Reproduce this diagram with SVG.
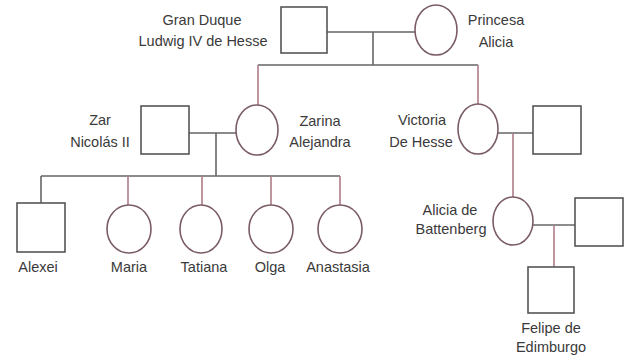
<svg xmlns="http://www.w3.org/2000/svg" width="625" height="356" viewBox="0 0 625 356">
<style>
.m{fill:#fff;stroke:#555;stroke-width:1.6}
.f{fill:#fff;stroke:#7a5c64;stroke-width:1.6}
.c{fill:none;stroke:#666;stroke-width:1.6}
.d{fill:none;stroke:#b07c88;stroke-width:1.6}
text{font-family:"Liberation Sans",Arial,sans-serif;font-size:14.5px;fill:#3a3a3a;text-anchor:middle}
</style>
<rect width="625" height="356" fill="#fff"/>
<g id="connectors">
<path class="c" d="M327 32H415M373 32V65M258 65H478"/>
<path class="d" d="M258 65V105M478 65V104"/>
<path class="c" d="M189 133H236M216 133V176M41 176H340"/>
<path class="c" d="M41 176V203"/>
<path class="d" d="M128 176V205M202 176V205M271 176V205M340 176V205"/>
<path class="c" d="M498 133H533"/>
<path class="d" d="M513 133V197"/>
<path class="c" d="M533 225H575"/>
<path class="d" d="M554 225V267"/>
</g>
<g id="ludwig"><rect class="m" x="281" y="7" width="46" height="46"/><text x="202" y="25">Gran Duque</text><text x="203" y="46">Ludwig IV de Hesse</text></g>
<g id="alicia"><ellipse class="f" cx="436" cy="30" rx="21" ry="25"/><text x="496" y="25">Princesa</text><text x="496" y="47">Alicia</text></g>
<g id="nicolas"><rect class="m" x="141" y="106" width="48" height="48"/><text x="100" y="125">Zar</text><text x="100" y="147">Nicolás II</text></g>
<g id="alejandra"><ellipse class="f" cx="257" cy="130" rx="21" ry="25"/><text x="320" y="126">Zarina</text><text x="320" y="147">Alejandra</text></g>
<g id="victoria"><ellipse class="f" cx="478" cy="129" rx="20" ry="25"/><text x="422" y="125">Victoria</text><text x="421" y="147">De Hesse</text></g>
<g id="victoria-husband"><rect class="m" x="533" y="106" width="48" height="48"/></g>
<g id="alicia-battenberg"><ellipse class="f" cx="513" cy="221" rx="20" ry="24"/><text x="450" y="215">Alicia de</text><text x="451" y="234">Battenberg</text></g>
<g id="alicia-husband"><rect class="m" x="575" y="198" width="48" height="48"/></g>
<g id="felipe"><rect class="m" x="528" y="267" width="46" height="46"/><text x="551" y="333">Felipe de</text><text x="551" y="352">Edimburgo</text></g>
<g id="alexei"><rect class="m" x="17" y="203" width="48" height="49"/><text x="38" y="272">Alexei</text></g>
<g id="maria"><ellipse class="f" cx="129" cy="229" rx="22" ry="24"/><text x="129" y="272">Maria</text></g>
<g id="tatiana"><ellipse class="f" cx="201" cy="229" rx="21" ry="24"/><text x="204" y="272">Tatiana</text></g>
<g id="olga"><ellipse class="f" cx="271" cy="229" rx="22" ry="24"/><text x="270" y="272">Olga</text></g>
<g id="anastasia"><ellipse class="f" cx="340" cy="229" rx="22" ry="24"/><text x="338" y="272">Anastasia</text></g>
</svg>
